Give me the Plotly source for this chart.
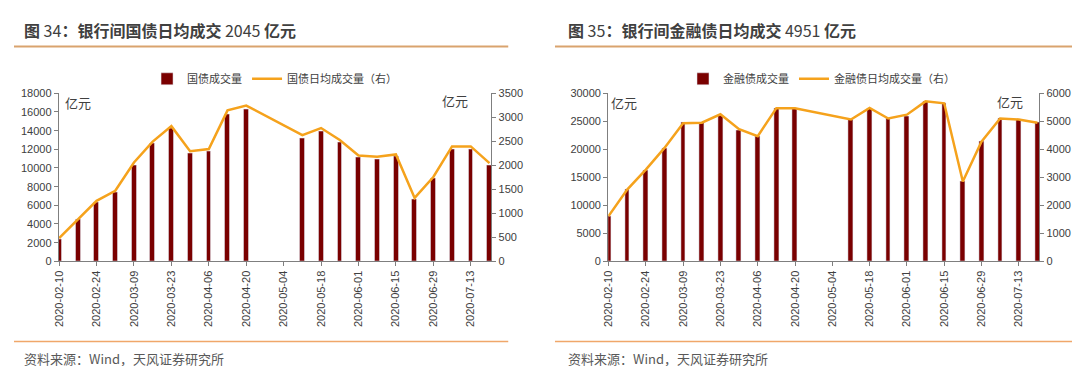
import plotly.graph_objects as go

# ---------------- data ----------------
dates = ["2020-02-10", "2020-02-17", "2020-02-24", "2020-03-02", "2020-03-09", "2020-03-16",
         "2020-03-23", "2020-03-30", "2020-04-06", "2020-04-13", "2020-04-20", "2020-04-27",
         "2020-05-04", "2020-05-11", "2020-05-18", "2020-05-25", "2020-06-01", "2020-06-08",
         "2020-06-15", "2020-06-22", "2020-06-29", "2020-07-06", "2020-07-13", "2020-07-20"]
tick_dates = dates[::2]

gov_volume = [2400, 4500, 6350, 7400, 10300, 12600, 14250, 11600, 11800, 15800, 16300, None,
              None, 13150, 13950, 12700, 11100, 10950, 11200, 6600, 8850, 12000, 12000, 10300]
gov_daily = [483, 880, 1260, 1470, 2058, 2494, 2816, 2293, 2340, 3145, 3245, None,
             None, 2628, 2776, 2528, 2206, 2179, 2226, 1321, 1757, 2394, 2394, 2045]

fin_volume = [8100, 12800, 16250, 20100, 24750, 24750, 26150, 23450, 22300, 27350, 27350, None,
              None, 25300, 27350, 25500, 25950, 28550, 28200, 14250, 21350, 25500, 25300, 24900]
fin_daily = [1615, 2560, 3277, 4050, 4927, 4950, 5250, 4719, 4465, 5469, 5469, None,
             None, 5065, 5481, 5100, 5238, 5712, 5642, 2850, 4269, 5100, 5065, 4951]

title_left = "<b>图</b> 34<b>：银行间国债日均成交</b> 2045 <b>亿元</b>"
title_right = "<b>图</b> 35<b>：银行间金融债日均成交</b> 4951 <b>亿元</b>"
source_text = "资料来源：Wind，天风证券研究所"
unit = "亿元"

# ---------------- styles ----------------
W, H = 1080, 366
BAR = "#7A0000"
LINE = "#F5A21C"
TXT = "#404040"
AX = "#7F7F7F"
FONT = "Liberation Sans, Noto Sans CJK SC, sans-serif"
CJK = "Noto Sans CJK SC, sans-serif"

def px_x(x):
    return x / W

def px_y(y):
    return 1 - y / H

ydom = [px_y(255.7), px_y(82.0)]
xdom1 = [px_x(45), px_x(480)]
xdom2 = [px_x(597.5), px_x(1031)]

fig = go.Figure()

fig.add_trace(go.Bar(x=dates, y=gov_volume, name="国债成交量", marker_color=BAR, width=0.26,
                     xaxis="x", yaxis="y", legend="legend"))
fig.add_trace(go.Scatter(x=dates, y=gov_daily, name="国债日均成交量（右）", mode="lines",
                         line=dict(color=LINE, width=2.5), connectgaps=True,
                         xaxis="x", yaxis="y2", legend="legend"))
fig.add_trace(go.Bar(x=dates, y=fin_volume, name="金融债成交量", marker_color=BAR, width=0.26,
                     xaxis="x2", yaxis="y3", legend="legend2"))
fig.add_trace(go.Scatter(x=dates, y=fin_daily, name="金融债日均成交量（右）", mode="lines",
                         line=dict(color=LINE, width=2.5), connectgaps=True,
                         xaxis="x2", yaxis="y4", legend="legend2"))

xcommon = dict(type="category", categoryorder="array", categoryarray=dates,
               tickvals=tick_dates, ticktext=tick_dates, tickangle=-90,
               showline=True, linecolor=AX, linewidth=1, ticks="outside", ticklen=4,
               tickcolor=AX, showgrid=False, zeroline=False,
               tickfont=dict(family=FONT, size=11, color=TXT), range=[-0.02, 23.1])
ycommon = dict(showline=True, linecolor=AX, linewidth=1, ticks="outside", ticklen=4,
               tickcolor=AX, showgrid=False, zeroline=False, domain=ydom, tickformat="d",
               tickfont=dict(family=FONT, size=11, color=TXT))

fig.update_layout(
    width=W, height=H, autosize=False,
    margin=dict(l=0, r=0, t=0, b=0),
    paper_bgcolor="white", plot_bgcolor="white",
    bargap=0,
    xaxis=dict(domain=xdom1, anchor="y", **xcommon),
    xaxis2=dict(domain=xdom2, anchor="y3", **xcommon),
    yaxis=dict(anchor="x", side="left", range=[0, 18000], dtick=2000, **ycommon),
    yaxis2=dict(anchor="x", overlaying="y", side="right", range=[0, 3500], dtick=500, **ycommon),
    yaxis3=dict(anchor="x2", side="left", range=[0, 30000], dtick=5000, **ycommon),
    yaxis4=dict(anchor="x2", overlaying="y3", side="right", range=[0, 6000], dtick=1000, **ycommon),
    legend=dict(orientation="h", x=px_x(262), y=px_y(67), xanchor="center", yanchor="middle",
                font=dict(family=CJK, size=11, color=TXT), bgcolor="rgba(0,0,0,0)",
                itemwidth=30, tracegroupgap=0),
    legend2=dict(orientation="h", x=px_x(812), y=px_y(67), xanchor="center", yanchor="middle",
                 font=dict(family=CJK, size=11, color=TXT), bgcolor="rgba(0,0,0,0)",
                 itemwidth=30, tracegroupgap=0),
    showlegend=True,
)

annotations = [
    dict(text=title_left, x=px_x(8), y=px_y(17), xanchor="left", yanchor="middle",
         font=dict(family=CJK, size=16, color=TXT)),
    dict(text=title_right, x=px_x(555), y=px_y(17), xanchor="left", yanchor="middle",
         font=dict(family=CJK, size=16, color=TXT)),
    dict(text=source_text, x=px_x(8), y=px_y(356), xanchor="left", yanchor="middle",
         font=dict(family=CJK, size=13, color="#595959")),
    dict(text=source_text, x=px_x(555), y=px_y(356), xanchor="left", yanchor="middle",
         font=dict(family=CJK, size=13, color="#595959")),
    dict(text=unit, x=px_x(49), y=px_y(91), xanchor="left", yanchor="middle",
         font=dict(family=CJK, size=13, color=TXT)),
    dict(text=unit, x=px_x(459), y=px_y(89), xanchor="right", yanchor="middle",
         font=dict(family=CJK, size=13, color=TXT)),
    dict(text=unit, x=px_x(598), y=px_y(92), xanchor="left", yanchor="middle",
         font=dict(family=CJK, size=13, color=TXT)),
    dict(text=unit, x=px_x(1017), y=px_y(90), xanchor="right", yanchor="middle",
         font=dict(family=CJK, size=13, color=TXT)),
]
for a in annotations:
    a.update(xref="paper", yref="paper", showarrow=False)
fig.update_layout(annotations=annotations)

shapes = [
    dict(type="line", x0=0, x1=px_x(497), y0=px_y(33.7), y1=px_y(33.7), line=dict(color="#D9A36E", width=2)),
    dict(type="line", x0=px_x(544), x1=1, y0=px_y(33.7), y1=px_y(33.7), line=dict(color="#D9A36E", width=2)),
    dict(type="line", x0=0, x1=px_x(497), y0=px_y(338.5), y1=px_y(338.5), line=dict(color="#F0A76A", width=1.5)),
    dict(type="line", x0=px_x(544), x1=1, y0=px_y(338.5), y1=px_y(338.5), line=dict(color="#F0A76A", width=1.5)),
]
for s in shapes:
    s.update(xref="paper", yref="paper")
fig.update_layout(shapes=shapes)

fig.write_html("out.html")
